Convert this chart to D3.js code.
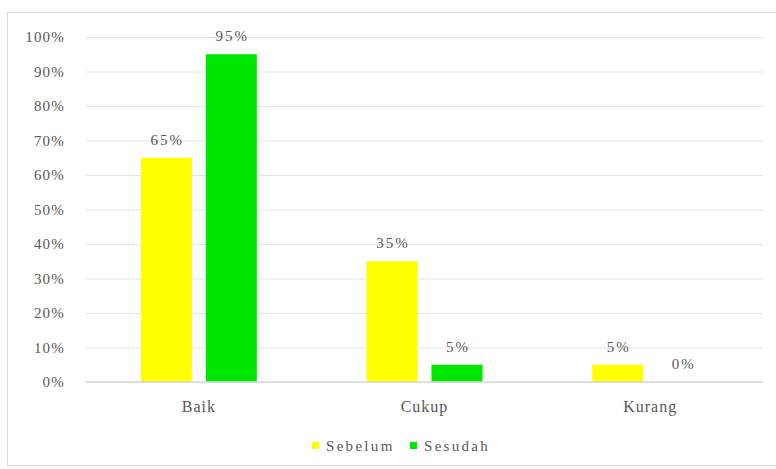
<!DOCTYPE html>
<html>
<head>
<meta charset="utf-8">
<script src="https://cdn.jsdelivr.net/npm/d3@7"></script>
<style>
  body { margin: 0; background: #fff; }
  svg text { font-family: "Liberation Serif", "Times New Roman", serif; fill: #595959; }
</style>
</head>
<body>
<div id="wrapper"></div>
<script>
const categories = ["Baik", "Cukup", "Kurang"];
const seriesNames = ["Sebelum", "Sesudah"];
const sebelum = [65, 35, 5];
const sesudah = [95, 5, 0];
const yTicks = [0, 10, 20, 30, 40, 50, 60, 70, 80, 90, 100];

const colors = { Sebelum: "#ffff00", Sesudah: "#00e600" };
const serif = "'Liberation Serif', 'Times New Roman', serif";

function buildPlot() {
    const dimention = {
        width: 776,
        height: 469,
        margin: { top: 37, left: 86, bottom: 87, right: 13 }
    };
    dimention.boundedWidth = dimention.width - dimention.margin.left - dimention.margin.right;
    dimention.boundedHeight = dimention.height - dimention.margin.top - dimention.margin.bottom;

    const svg = d3.select("#wrapper").append("svg")
        .attr("width", dimention.width)
        .attr("height", dimention.height)
        .attr("font-family", serif);

    // chart frame (right edge runs off the picture)
    svg.append("rect")
        .attr("x", 7.5).attr("y", 12.5)
        .attr("width", 800).attr("height", 453)
        .attr("fill", "#fff")
        .attr("stroke", "#d9d9d9");

    const bounded = svg.append("g")
        .attr("transform", `translate(${dimention.margin.left},${dimention.margin.top})`);

    const yScaler = d3.scaleLinear()
        .domain([0, 100])
        .range([dimention.boundedHeight, 0]);

    const xScaler = d3.scaleBand()
        .domain(categories)
        .range([0, dimention.boundedWidth]);

    const groupWidth = 116;
    const x1 = d3.scaleBand()
        .domain(seriesNames)
        .range([(xScaler.bandwidth() - groupWidth) / 2, (xScaler.bandwidth() + groupWidth) / 2])
        .paddingInner(0.215);

    // gridlines + y labels
    const yAxis = bounded.append("g")
        .call(d3.axisLeft(yScaler)
            .tickValues(yTicks)
            .tickSize(-dimention.boundedWidth)
            .tickPadding(21)
            .tickFormat(d => d + "%"));
    yAxis.attr("font-family", serif);
    yAxis.select(".domain").remove();
    yAxis.selectAll(".tick line").attr("stroke", "#e3e3e3").attr("stroke-width", 1);
    yAxis.selectAll(".tick text")
        .attr("font-size", 15)
        .attr("letter-spacing", 1.2)
        .attr("fill", "#6a6a6a");

    const rows = categories.map((c, i) => ({ cat: c, Sebelum: sebelum[i], Sesudah: sesudah[i] }));

    const groups = bounded.selectAll(".grp")
        .data(rows)
        .join("g")
        .attr("transform", d => `translate(${xScaler(d.cat)},0)`);

    groups.selectAll("rect")
        .data(d => seriesNames.map(s => ({ s, v: d[s] })))
        .join("rect")
        .attr("x", d => x1(d.s))
        .attr("width", x1.bandwidth())
        .attr("y", d => yScaler(d.v))
        .attr("height", d => dimention.boundedHeight - yScaler(d.v))
        .attr("fill", d => colors[d.s]);

    groups.selectAll(".lbl")
        .data(d => seriesNames.map(s => ({ s, v: d[s] })))
        .join("text")
        .attr("class", "lbl")
        .attr("x", d => x1(d.s) + x1.bandwidth() / 2 + 1)
        .attr("y", d => yScaler(d.v) - 13)
        .attr("text-anchor", "middle")
        .attr("font-size", 15)
        .attr("letter-spacing", 2)
        .text(d => d.v + "%");

    // baseline
    bounded.append("line")
        .attr("x1", 0).attr("x2", dimention.boundedWidth)
        .attr("y1", dimention.boundedHeight).attr("y2", dimention.boundedHeight)
        .attr("stroke", "#d9d9d9").attr("stroke-width", 1.5);

    // x labels
    const xAxis = bounded.append("g")
        .attr("transform", `translate(0,${dimention.boundedHeight})`)
        .call(d3.axisBottom(xScaler).tickSize(0).tickPadding(19));
    xAxis.attr("font-family", serif);
    xAxis.select(".domain").remove();
    xAxis.selectAll(".tick text")
        .attr("font-size", 16)
        .attr("letter-spacing", 1)
        .attr("fill", "#595959");

    // legend
    const legendX = [312, 410];
    const legend = svg.append("g");
    seriesNames.forEach((s, i) => {
        legend.append("rect")
            .attr("x", legendX[i]).attr("y", 442)
            .attr("width", 7).attr("height", 7)
            .attr("fill", colors[s]);
        legend.append("text")
            .attr("x", legendX[i] + 14).attr("y", 451)
            .attr("font-size", 15)
            .attr("letter-spacing", 2.3)
            .text(s);
    });
}

buildPlot();
</script>
</body>
</html>
